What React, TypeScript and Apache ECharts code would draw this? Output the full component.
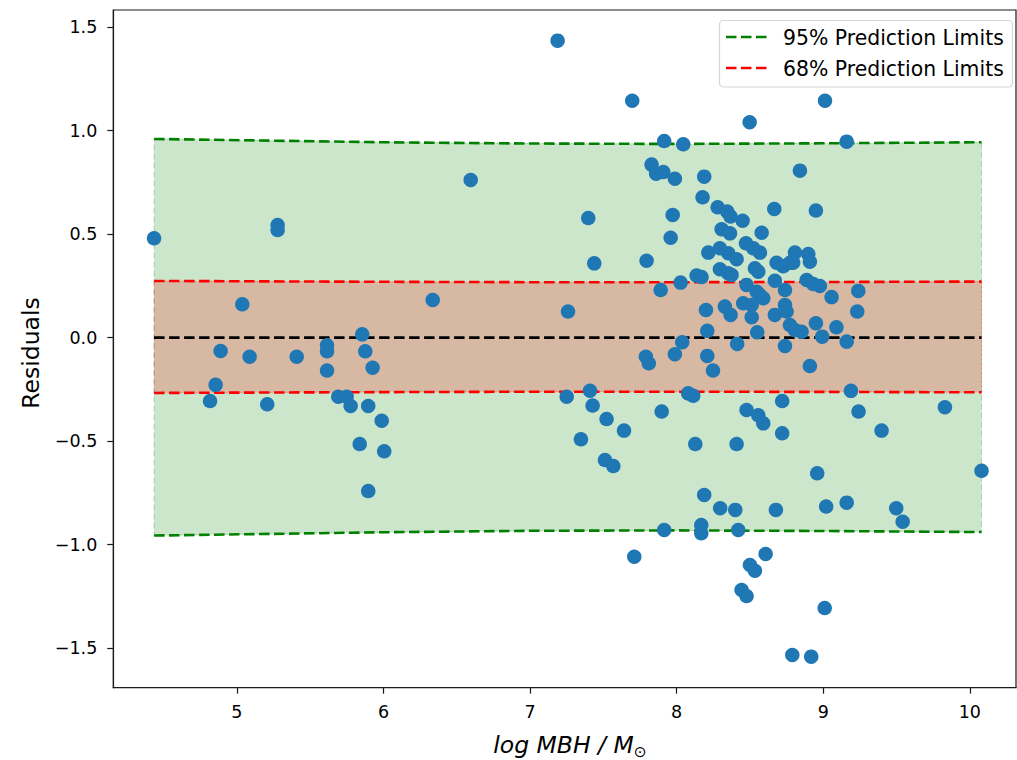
import React, { useEffect, useRef } from "react";
import * as echarts from "echarts";

// ---- data ----
const logMBH = [
  4.435, 4.817, 4.855, 4.889, 5.037, 5.087, 5.207, 5.278, 5.278, 5.408,
  5.615, 5.615, 5.615, 5.692, 5.749, 5.776, 5.838, 5.855, 5.876, 5.896,
  5.896, 5.926, 5.988, 6.005, 6.336, 6.595, 7.188, 7.25, 7.259, 7.347,
  7.397, 7.409, 7.427, 7.438, 7.511, 7.522, 7.568, 7.641, 7.697, 7.711,
  7.79, 7.795, 7.81, 7.829, 7.86, 7.891, 7.898, 7.909, 7.915, 7.915,
  7.959, 7.973, 7.988, 7.988, 8.027, 8.038, 8.045, 8.079, 8.113, 8.127,
  8.136, 8.168, 8.168, 8.17, 8.177, 8.188, 8.188, 8.2, 8.209, 8.209,
  8.216, 8.248, 8.28, 8.295, 8.295, 8.297, 8.307, 8.329, 8.345, 8.352,
  8.352, 8.364, 8.368, 8.368, 8.375, 8.4, 8.409, 8.409, 8.413, 8.42,
  8.443, 8.45, 8.454, 8.473, 8.477, 8.477, 8.477, 8.498, 8.5, 8.512,
  8.512, 8.523, 8.534, 8.534, 8.546, 8.55, 8.557, 8.557, 8.568, 8.568,
  8.58, 8.591, 8.591, 8.607, 8.666, 8.67, 8.67, 8.677, 8.682, 8.72,
  8.72, 8.727, 8.739, 8.739, 8.739, 8.75, 8.773, 8.773, 8.789, 8.795,
  8.807, 8.807, 8.841, 8.852, 8.887, 8.898, 8.909, 8.909, 8.918, 8.932,
  8.95, 8.95, 8.959, 8.977, 8.993, 9.01, 9.012, 9.02, 9.057, 9.09,
  9.16, 9.16, 9.16, 9.189, 9.232, 9.239, 9.241, 9.398, 9.498, 9.542,
  9.83, 10.08,
];
const residuals = [
  0.48, -0.306, -0.228, -0.064, 0.161, -0.092, -0.322, 0.544, 0.52, -0.092,
  -0.037, -0.066, -0.159, -0.285, -0.285, -0.33, -0.514, 0.016, -0.066, -0.33,
  -0.741, -0.145, -0.401, -0.549, 0.182, 0.762, 1.435, -0.285, 0.126, -0.491,
  0.578, -0.256, -0.328, 0.359, -0.591, -0.393, -0.62, -0.449, 1.145, -1.058,
  -0.092, 0.372, -0.124, 0.836, 0.792, 0.23, -0.357, 0.8, 0.95, -0.929,
  0.483, 0.593, 0.768, -0.08, 0.266, -0.022, 0.934, -0.269, -0.281, -0.514,
  0.3, -0.905, -0.945, 0.293, 0.678, 0.778, -0.76, 0.134, 0.033, -0.088,
  0.411, -0.159, 0.63, 0.432, 0.331, -0.824, 0.524, 0.15, 0.609, 0.408,
  0.311, 0.504, 0.585, 0.11, 0.303, -0.832, 0.379, -0.514, -0.03, -0.929,
  -1.219, 0.565, 0.166, 0.456, 0.255, -0.349, -1.248, 1.041, -1.098, 0.158,
  0.099, 0.432, 0.335, -1.126, 0.222, 0.026, 0.319, -0.375, 0.411, 0.206,
  0.507, 0.19, -0.414, -1.045, 0.622, 0.275, 0.11, -0.832, 0.362, -0.306,
  -0.462, 0.345, 0.23, 0.158, -0.04, 0.126, 0.362, 0.061, -1.533, 0.362,
  0.411, 0.037, 0.807, 0.029, 0.279, 0.404, 0.367, -0.137, -1.541, 0.259,
  0.614, 0.07, -0.655, 0.25, 0.005, -1.306, 1.145, -0.816, 0.196, 0.05,
  0.947, -0.019, -0.797, -0.257, 0.126, 0.226, -0.357, -0.449, -0.824, -0.889,
  -0.336, -0.643,
];

// prediction-limit curves
const bandX = [4.435, 6.0, 7.0, 8.0, 9.0, 10.08];
const upper95 = [0.96, 0.944, 0.938, 0.936, 0.939, 0.944];
const lower95 = [-0.956, -0.94, -0.933, -0.931, -0.934, -0.939];
const upper68 = [0.274, 0.27, 0.268, 0.268, 0.269, 0.271];
const lower68 = [-0.267, -0.263, -0.261, -0.261, -0.262, -0.264];
const fitLine = [0, 0, 0, 0, 0, 0];

const xTicks = [5, 6, 7, 8, 9, 10];
const yTicks = [-1.5, -1.0, -0.5, 0.0, 0.5, 1.0, 1.5];

const legendLabels = ["95% Prediction Limits", "68% Prediction Limits"];

const FONT = "DejaVu Sans";

export default function App() {
  const ref = useRef<HTMLDivElement>(null);

  useEffect(() => {
    if (!ref.current) return;
    const chart = echarts.init(ref.current, undefined, { renderer: "svg" });

    const bandSeries = (lo: number[], hi: number[], fill: string, edge: string, z: number) => ({
      type: "custom",
      z,
      silent: true,
      data: bandX.map((x, i) => [x, lo[i], hi[i]]),
      encode: { x: 0, y: 1 },
      renderItem: (params: any, api: any) => {
        if (params.dataIndex !== 0) return null;
        const top = bandX.map((x, i) => api.coord([x, hi[i]]));
        const bot = bandX.map((x, i) => api.coord([x, lo[i]])).reverse();
        return {
          type: "polygon",
          shape: { points: top.concat(bot) },
          style: { fill, stroke: edge, lineWidth: 1, lineDash: [6, 3] },
        };
      },
    });

    const dashed = (ys: number[], color: string, name: string, z: number) => ({
      type: "line",
      name,
      z,
      silent: true,
      symbol: "none",
      data: bandX.map((x, i) => [x, ys[i]]),
      lineStyle: { color, width: 2.6, type: [10.5, 4.5] },
    });

    const fmt = (v: number) => v.toFixed(1).replace("-", "\u2212");

    chart.setOption({
      animation: false,
      backgroundColor: "#ffffff",
      grid: {
        left: 113.3,
        top: 10,
        right: 1,
        bottom: 72.3,
        show: true,
        borderColor: "#1a1a1a",
        borderWidth: 1.2,
        backgroundColor: "transparent",
      },
      xAxis: {
        type: "value",
        min: 4.157,
        max: 10.315,
        splitLine: { show: false },
        axisLine: { show: true, onZero: false, lineStyle: { color: "#1a1a1a", width: 1.2 } },
        axisTick: { show: true, length: 6, customValues: xTicks, lineStyle: { color: "#1a1a1a", width: 1.2 } },
        axisLabel: {
          customValues: xTicks,
          margin: 15,
          fontSize: 17.5,
          fontFamily: FONT,
          color: "#000",
          formatter: (v: number) => String(v),
        },
      },
      yAxis: {
        type: "value",
        min: -1.691,
        max: 1.583,
        splitLine: { show: false },
        axisLine: { show: true, onZero: false, lineStyle: { color: "#1a1a1a", width: 1.2 } },
        axisTick: { show: true, length: 6, customValues: yTicks, lineStyle: { color: "#1a1a1a", width: 1.2 } },
        axisLabel: {
          customValues: yTicks,
          margin: 16,
          fontSize: 17.5,
          fontFamily: FONT,
          color: "#000",
          formatter: fmt,
        },
      },
      series: [
        bandSeries(lower95, upper95, "rgba(0,128,0,0.2)", "rgba(0,128,0,0.25)", 1),
        bandSeries(lower68, upper68, "rgba(255,0,0,0.2)", "rgba(255,0,0,0.25)", 2),
        dashed(upper95, "#008000", legendLabels[0], 3),
        dashed(lower95, "#008000", legendLabels[0], 3),
        dashed(upper68, "#ff0000", legendLabels[1], 3),
        dashed(lower68, "#ff0000", legendLabels[1], 3),
        dashed(fitLine, "#000000", "fit", 3),
        {
          type: "scatter",
          z: 5,
          symbolSize: 14.5,
          itemStyle: { color: "#1f77b4", opacity: 1 },
          data: logMBH.map((x, i) => [x, residuals[i]]),
        },
      ],
      graphic: [
        {
          type: "text",
          x: 31,
          y: 353,
          rotation: Math.PI / 2,
          style: {
            text: "Residuals",
            fontSize: 23.5,
            fontFamily: FONT,
            fill: "#000",
            align: "center",
            verticalAlign: "middle",
          },
        },
        {
          type: "text",
          x: 570,
          y: 745,
          style: {
            text: "{a|log MBH / M}{b|\u2299}",
            align: "center",
            verticalAlign: "middle",
            rich: {
              a: { fontSize: 23.5, fontStyle: "italic", fontFamily: FONT, fill: "#000", lineHeight: 30 },
              b: { fontSize: 15.5, fontFamily: FONT, fill: "#000", lineHeight: 17, verticalAlign: "bottom" },
            },
          },
        },
        {
          type: "rect",
          shape: { x: 719.5, y: 20.5, width: 293, height: 66.5, r: 4 },
          style: { fill: "rgba(255,255,255,0.8)", stroke: "#d6d6d6", lineWidth: 1.2 },
          z: 10,
        },
        {
          type: "line",
          shape: { x1: 726, y1: 37, x2: 767, y2: 37 },
          style: { stroke: "#008000", lineWidth: 2.6, lineDash: [10.5, 4.5] },
          z: 11,
        },
        {
          type: "line",
          shape: { x1: 726, y1: 68, x2: 767, y2: 68 },
          style: { stroke: "#ff0000", lineWidth: 2.6, lineDash: [10.5, 4.5] },
          z: 11,
        },
        {
          type: "text",
          x: 783,
          y: 38,
          z: 11,
          style: { text: legendLabels[0], fontSize: 20.4, fontFamily: FONT, fill: "#000", verticalAlign: "middle" },
        },
        {
          type: "text",
          x: 783,
          y: 68.5,
          z: 11,
          style: { text: legendLabels[1], fontSize: 20.4, fontFamily: FONT, fill: "#000", verticalAlign: "middle" },
        },
      ],
    });

    return () => chart.dispose();
  }, []);

  return (
    <div
      ref={ref}
      style={{ position: "absolute", left: 0, top: 0, width: 1017, height: 760 }}
    />
  );
}
